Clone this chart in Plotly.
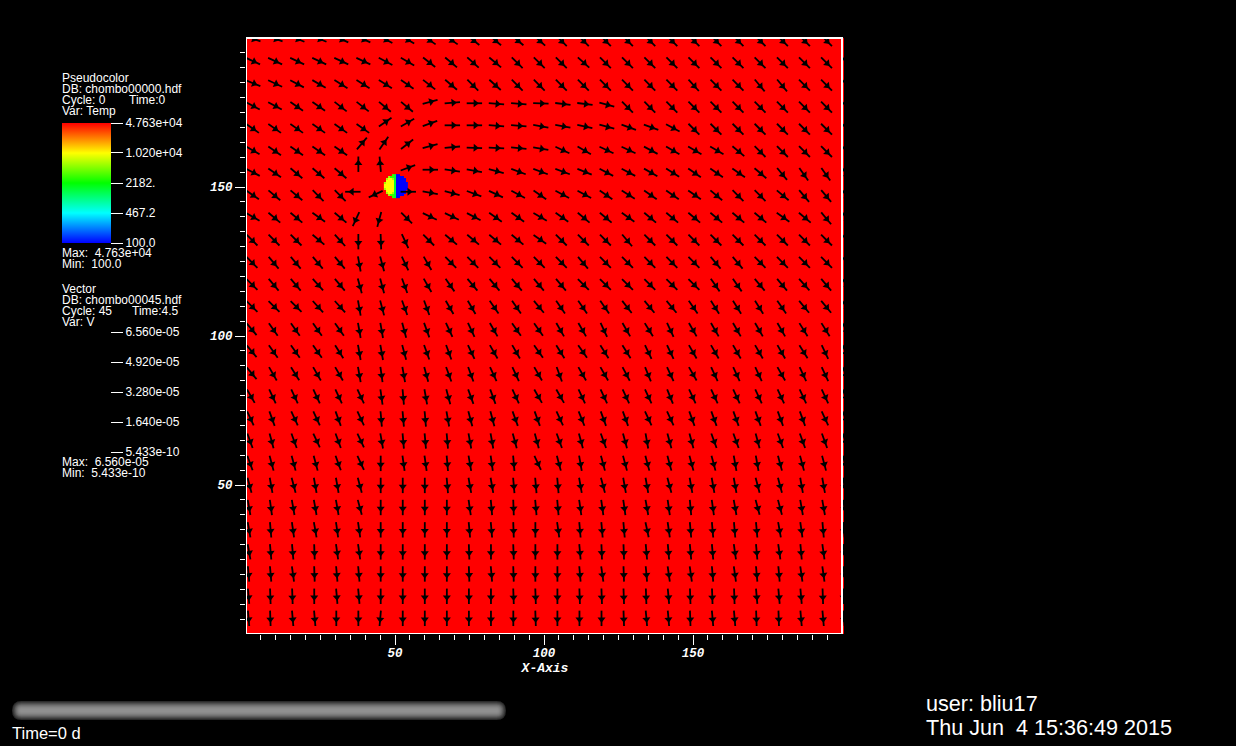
import numpy as np
import plotly.graph_objects as go

W, H = 1236, 746

# ---- data ----------------------------------------------------------------
x_grid = [0.7, 8.1, 15.5, 22.9, 30.3, 37.7, 45.2, 52.6, 60.0, 67.4, 74.8, 82.2, 89.7, 97.1,
          104.5, 111.9, 119.3, 126.7, 134.2, 141.6, 149.0, 156.4, 163.8, 171.2, 178.7, 186.1, 193.5, 200.5]
y_grid = [200.4, 193.0, 185.5, 178.1, 170.7, 163.2, 155.8, 148.4, 140.9, 133.5, 126.0, 118.6, 111.2, 103.7,
          96.3, 88.9, 81.4, 74.0, 66.6, 59.1, 51.7, 44.3, 36.8, 29.4, 22.0, 14.5, 7.1]

# heading of the velocity vector, degrees clockwise from north; one row per y_grid value
heading = [
 [110,110,112,112,115,115,118,120,125,125,128,130,130,132, 135,135,135,135,135,135,135,135,135,135,135,135,135,135],
 [115,115,115,115,115,115,118,120,128,130,132,130,135,135, 135,132,135,135,135,135,135,135,135,135,135,135,135,135],
 [112,115,118,120,122,122,122,125,128,130,135,132,135,135, 135,135,135,135,135,135,138,135,135,140,140,135,135,135],
 [118,118,125,125,128,128,130,130,75,85,90,95,95,92, 97,97,105,135,135,135,135,135,135,135,135,135,135,135],
 [125,125,125,125,125,125,55,60,70,90,90,95,95,100, 100,102,105,110,110,118,135,135,135,135,135,135,135,135],
 [120,125,125,125,125,40,35,52,75,85,92,93,95,100, 115,120,115,115,118,120,120,120,130,135,135,135,135,135],
 [118,125,130,130,130,0,355,70,90,98,100,105,110,110, 110,112,118,118,120,122,125,125,125,130,140,145,145,145],
 [125,130,130,135,135,270,245,90,100,105,110,115,118,125, 118,118,125,122,125,125,125,130,135,135,130,140,140,140],
 [120,130,130,125,130,205,195,135,115,115,118,125,125,120, 125,130,130,125,130,130,130,130,130,130,125,130,140,140],
 [135,135,135,130,138,180,178,155,135,130,130,130,130,125, 135,135,135,140,135,135,135,135,135,135,135,135,135,135],
 [135,140,140,140,140,170,165,155,150,135,135,135,135,135, 135,140,135,135,135,135,135,140,140,135,135,135,135,135],
 [135,140,140,138,140,165,165,160,150,145,140,140,140,140, 140,135,135,135,135,135,135,145,145,140,140,138,140,140],
 [135,135,135,138,138,170,165,160,160,150,150,145,145,140, 145,145,145,142,140,140,145,148,148,148,145,140,140,140],
 [140,145,145,145,145,170,170,165,160,155,155,150,145,145, 150,150,155,150,148,155,150,150,150,150,150,148,148,148],
 [140,145,145,145,148,170,170,165,160,160,155,150,150,145, 148,145,148,148,155,155,150,150,150,150,150,148,155,155],
 [140,150,148,150,150,170,172,170,165,160,160,155,155,150, 160,150,150,152,158,155,150,155,155,155,150,155,155,155],
 [150,155,155,155,155,155,172,175,170,165,160,160,155,150, 150,155,155,155,155,158,155,155,155,155,155,155,155,155],
 [155,160,155,155,160,155,175,175,175,170,165,165,160,160, 155,158,160,160,155,155,160,160,160,160,160,160,155,155],
 [160,165,160,155,160,155,170,175,175,175,170,170,165,165, 160,165,160,165,170,165,165,160,160,165,160,160,160,160],
 [160,165,165,165,160,155,180,172,172,175,170,172,175,155, 165,170,165,165,165,165,165,165,170,170,165,165,165,165],
 [165,170,165,170,170,165,180,180,180,175,170,170,175,175, 175,170,165,170,170,165,170,170,170,165,165,170,170,170],
 [170,172,170,170,170,165,180,180,180,180,172,175,178,175, 175,172,172,172,170,172,175,172,170,165,165,170,170,170],
 [170,175,172,170,172,172,180,180,180,180,175,175,178,180, 172,175,175,175,168,172,175,175,175,175,170,172,175,175],
 [170,175,175,178,172,172,180,180,180,180,178,180,178,180, 180,175,178,178,175,175,175,175,172,175,172,175,172,172],
 [175,175,172,178,175,175,180,180,180,180,178,175,178,180, 180,175,172,178,175,172,172,175,172,175,175,172,172,172],
 [175,178,178,180,175,175,180,180,180,180,180,180,178,178, 180,178,178,178,178,175,178,178,178,175,175,175,178,178],
 [175,178,175,175,180,180,185,180,180,180,180,180,180,178, 180,180,180,178,175,175,178,175,175,178,178,175,175,175],
]

temp_background = 47630
temp_ticks = [47630, 10200, 2182, 467.2, 100]
temp_tick_text = ["4.763e+04", "1.020e+04", "2182.", "467.2", "100.0"]
vec_ticks = [6.560e-05, 4.920e-05, 3.280e-05, 1.640e-05, 5.433e-10]
vec_tick_text = ["6.560e-05", "4.920e-05", "3.280e-05", "1.640e-05", "5.433e-10"]

# sphere of low temperature near (50, 150), one letter per cell
circle_temp = {"y": 10200, "l": 5900, "g": 2950, "t": 1600, "b": 100, ".": None}
circle_rows = [
    "....gtbb....",
    "..lggtbbbb..",
    ".lyyltbbbbb.",
    ".yyyytbbbbb.",
    "lyyyytbbbbbb",
    "yyyyytbbbbbb",
    "yyyyytbbbbbb",
    "lyyyytbbbbbb",
    ".yyyytbbbbb.",
    ".lyyltbbbbb.",
    "..lggtbbbb..",
    "....gtbb....",
]

major_ticks = [50, 100, 150]
minor_ticks = [5, 10, 15, 20, 25, 30, 35, 40, 45, 55, 60, 65, 70, 75, 80, 85, 90, 95, 105, 110, 115, 120,
               125, 130, 135, 140, 145, 155, 160, 165, 170, 175, 180, 185, 190, 195]

left_labels = [
    ("Pseudocolor", 60, 78), ("DB: chombo00000.hdf", 60, 89), ("Cycle: 0", 60, 100), ("Time:0", 127, 100),
    ("Var: Temp", 60, 111), ("Max:\u00a0\u00a04.763e+04", 60, 253), ("Min:\u00a0\u00a0100.0", 60, 264),
    ("Vector", 60, 289), ("DB: chombo00045.hdf", 60, 300), ("Cycle: 45", 60, 311), ("Time:4.5", 130, 311),
    ("Var: V", 60, 322), ("Max:\u00a0\u00a06.560e-05", 60, 462), ("Min:\u00a0\u00a05.433e-10", 60, 473),
]
bar_shades = ["#2a2a2a", "#3c3c3c", "#4e4e4e", "#606060", "#707070", "#7c7c7c", "#868686", "#8c8c8c", "#909090"]

# ---- figure ---------------------------------------------------------------
PX = 2.98
L, R, T, B = 246, 844, 37, 634
xmax, ymax = (R - L) / PX, (B - T) / PX

rainbow = [[0, "#0000ff"], [0.25, "#00ffff"], [0.5, "#00ff00"], [0.75, "#ffff00"], [1, "#ff0000"]]
zmin, zmax = np.log10(temp_ticks[-1]), np.log10(temp_ticks[0])
FONT = "Liberation Sans"
tick_font = dict(family=FONT, size=12, color="white")

fig = go.Figure()

fig.add_trace(go.Heatmap(
    z=[[np.log10(temp_background)]], x0=xmax / 2, dx=xmax, y0=ymax / 2, dy=ymax,
    colorscale=rainbow, zmin=zmin, zmax=zmax, hoverinfo="skip",
    colorbar=dict(x=62 / W, xanchor="left", y=1 - 123 / H, yanchor="top", len=120, lenmode="pixels",
                  thickness=49, thicknessmode="pixels", xpad=0, ypad=0, outlinewidth=0,
                  ticks="outside", ticklen=12.5, tickwidth=1.2, tickcolor="white", tickfont=tick_font,
                  tickmode="array", tickvals=list(np.log10(temp_ticks)), ticktext=temp_tick_text),
))

circle_z = [[np.log10(circle_temp[c]) if circle_temp[c] else None for c in row] for row in reversed(circle_rows)]
fig.add_trace(go.Heatmap(
    z=circle_z, x0=46.6, dx=0.671, y0=146.6, dy=0.671, colorscale=rainbow, zmin=zmin, zmax=zmax,
    showscale=False, hoverinfo="skip", hoverongaps=False,
))

xs, ys = np.meshgrid(x_grid, y_grid)
angles = np.array(heading, dtype=float).ravel()
ARROW = 11
# marker standoff pushes a marker against its angle, so both glyphs are turned round
fig.add_trace(go.Scatter(
    x=xs.ravel(), y=ys.ravel(), mode="markers", hoverinfo="skip", showlegend=False,
    marker=dict(symbol="line-ns", size=ARROW, angle=angles + 180, standoff=ARROW / 2,
                line=dict(color="black", width=1.8), color="black"),
))
fig.add_trace(go.Scatter(
    x=xs.ravel(), y=ys.ravel(), mode="markers", hoverinfo="skip", showlegend=False,
    marker=dict(symbol="triangle-down", size=7, angle=angles + 180, standoff=6.5, color="black",
                line=dict(width=0)),
))

# vector legend: its own colour bar, black on black as in the reference
fig.add_trace(go.Scatter(
    x=[-100] * len(vec_ticks), y=[-100] * len(vec_ticks), xaxis="x2", yaxis="y2", mode="markers",
    hoverinfo="skip", showlegend=False,
    marker=dict(color=vec_ticks, cmin=vec_ticks[-1], cmax=vec_ticks[0], opacity=0,
                colorscale=[[0, "black"], [1, "black"]], showscale=True,
                colorbar=dict(x=62 / W, xanchor="left", y=1 - 332 / H, yanchor="top", len=120, lenmode="pixels",
                              thickness=49, thicknessmode="pixels", xpad=0, ypad=0, outlinewidth=0,
                              ticks="outside", ticklen=12.5, tickwidth=1.2, tickcolor="white", tickfont=tick_font,
                              tickmode="array", tickvals=vec_ticks, ticktext=vec_tick_text)),
))

ax_font = dict(family="Liberation Mono", size=12.5, color="white", weight="bold", style="italic")
minor = dict(ticks="outside", ticklen=5, tickwidth=1.2, tickcolor="white", tickmode="array", tickvals=minor_ticks)
common = dict(range=[0, xmax], showgrid=False, zeroline=False, showline=False, ticks="outside", ticklen=10,
              tickwidth=1.2, tickcolor="white", tickmode="array", tickvals=major_ticks, tickfont=ax_font,
              tickangle=0, minor=minor, layer="above traces")

shapes = [dict(type="rect", xref="x", yref="y", x0=0, x1=200, y0=0, y1=200, line=dict(color="white", width=2),
               layer="above")]
# time slider, nested rounded bars from the dark rim to the light core
for i, shade in enumerate(bar_shades):
    x0, x1, y0, y1 = 12 + i, 506 - i, 701 + i, 720 - i
    r = (y1 - y0) / 2
    path = (f"M {x0+r} {y0} L {x1-r} {y0} Q {x1} {y0} {x1} {y0+r} Q {x1} {y1} {x1-r} {y1} "
            f"L {x0+r} {y1} Q {x0} {y1} {x0} {y0+r} Q {x0} {y0} {x0+r} {y0} Z")
    shapes.append(dict(type="path", xref="x2", yref="y2", path=path, fillcolor=shade, line=dict(width=0), layer="above"))

annotations = []
def label(text, x, y, size=12):
    annotations.append(dict(text=text, x=x, y=y, xref="x2", yref="y2", xanchor="left", yanchor="middle",
                            showarrow=False, font=dict(family=FONT, size=size, color="white")))
for text, x, y in left_labels:
    label(text, x, y)
label("Time=0 d", 10, 733, 16.5)
label("user: bliu17", 924, 703, 21.6)
label("Thu Jun\u00a0\u00a04 15:36:49 2015", 924, 727, 21.6)

fig.update_layout(
    width=W, height=H, paper_bgcolor="black", plot_bgcolor="rgba(0,0,0,0)", showlegend=False,
    margin=dict(l=0, r=0, t=0, b=0, pad=0, autoexpand=False),
    xaxis=dict(common, domain=[L / W, R / W], anchor="y", ticklabelstandoff=-3,
               title=dict(text="X-Axis", font=dict(ax_font, size=13), standoff=0)),
    yaxis=dict(common, range=[0, ymax], domain=[1 - B / H, 1 - T / H], anchor="x"),
    xaxis2=dict(domain=[0, 1], range=[0, W], visible=False, anchor="y2"),
    yaxis2=dict(domain=[0, 1], range=[H, 0], visible=False, anchor="x2"),
    shapes=shapes, annotations=annotations,
)

fig.write_html("out.html", config=dict(displayModeBar=False),
               post_script="document.body.style.margin='0';document.body.style.background='black';document.body.style.overflow='hidden';")
